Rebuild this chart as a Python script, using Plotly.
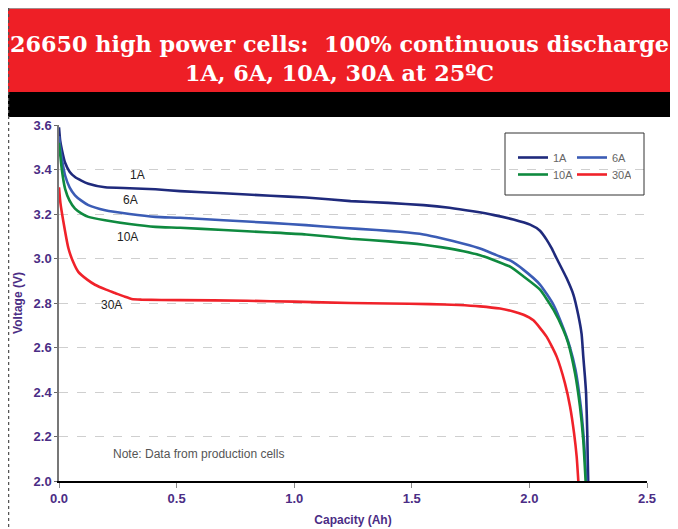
import plotly.graph_objects as go

# ---- data ----
cap_1a = [0, 0.005, 0.012, 0.026, 0.045, 0.068, 0.095, 0.125, 0.196, 0.3, 0.41, 0.515, 0.7, 0.9, 1.05, 1.24,
          1.4, 1.55, 1.66, 1.76, 1.85, 1.932, 2.003, 2.045, 2.073, 2.095, 2.116, 2.158, 2.187, 2.208, 2.222,
          2.229, 2.236, 2.241, 2.246, 2.248, 2.25]
v_1a = [3.59, 3.53, 3.49, 3.43, 3.39, 3.366, 3.35, 3.336, 3.32, 3.316, 3.311, 3.303, 3.293, 3.282, 3.274, 3.258,
        3.25, 3.24, 3.228, 3.212, 3.195, 3.175, 3.152, 3.125, 3.085, 3.045, 3.0, 2.912, 2.838, 2.745, 2.66,
        2.56, 2.47, 2.394, 2.215, 2.1, 2.0]

cap_6a = [0, 0.005, 0.012, 0.026, 0.045, 0.068, 0.095, 0.125, 0.196, 0.3, 0.41, 0.515, 0.7, 0.9, 1.05, 1.2,
          1.35, 1.45, 1.55, 1.63, 1.72, 1.79, 1.86, 1.92, 1.974, 2.045, 2.102, 2.144, 2.17, 2.196, 2.218, 2.232,
          2.242]
v_6a = [3.55, 3.5, 3.45, 3.373, 3.32, 3.284, 3.26, 3.24, 3.217, 3.2, 3.187, 3.183, 3.172, 3.16, 3.15, 3.138,
        3.128, 3.12, 3.108, 3.09, 3.066, 3.045, 3.015, 2.99, 2.95, 2.883, 2.793, 2.688, 2.61, 2.50, 2.34, 2.18,
        2.0]

cap_10a = [0, 0.005, 0.012, 0.026, 0.045, 0.068, 0.095, 0.125, 0.196, 0.3, 0.41, 0.515, 0.7, 0.9, 1.05, 1.24,
           1.4, 1.55, 1.63, 1.72, 1.79, 1.861, 1.92, 1.974, 2.045, 2.102, 2.144, 2.165, 2.194, 2.215, 2.229,
           2.239]
v_10a = [3.52, 3.47, 3.40, 3.313, 3.26, 3.224, 3.203, 3.187, 3.172, 3.155, 3.142, 3.138, 3.128, 3.117, 3.108,
         3.089, 3.077, 3.062, 3.05, 3.033, 3.015, 2.988, 2.962, 2.92, 2.86, 2.77, 2.68, 2.62, 2.484, 2.334,
         2.184, 2.0]

cap_30a = [0, 0.006, 0.018, 0.04, 0.06, 0.082, 0.12, 0.153, 0.2, 0.238, 0.28, 0.309, 0.35, 0.515, 0.8, 1.0,
           1.24, 1.4, 1.577, 1.7, 1.79, 1.875, 1.932, 1.975, 2.017, 2.073, 2.116, 2.151, 2.173, 2.19, 2.201,
           2.208]
v_30a = [3.32, 3.25, 3.17, 3.046, 2.985, 2.94, 2.905, 2.882, 2.86, 2.845, 2.828, 2.818, 2.815, 2.813, 2.81,
         2.806, 2.8, 2.798, 2.795, 2.791, 2.785, 2.775, 2.762, 2.747, 2.722, 2.649, 2.559, 2.44, 2.334, 2.214,
         2.109, 2.0]

series_names = ["1A", "6A", "10A", "30A"]
x_ticks = [0.0, 0.5, 1.0, 1.5, 2.0, 2.5]
y_ticks = [2.0, 2.2, 2.4, 2.6, 2.8, 3.0, 3.2, 3.4, 3.6]

title_line1 = "26650 high power cells: \u00a0100% continuous discharge"
title_line2 = "1A, 6A, 10A, 30A at 25\u00baC"
note_text = "Note: Data from production cells"

# ---- layout helpers (reference pixel -> paper); page has an 8px body margin ----
OFF = 8
W, H = 678 - OFF, 529 - OFF
L, R, T, B = 59, 647, 125, 481


def px(x):
    return (x - L) / (R - L)


def py(y):
    return (B - y) / (B - T)


colors = {"1A": "#1f2a7c", "6A": "#3b5cb5", "10A": "#0f8a3f", "30A": "#f0222a"}
data = {"1A": (cap_1a, v_1a), "6A": (cap_6a, v_6a), "10A": (cap_10a, v_10a), "30A": (cap_30a, v_30a)}
legend_of = {"1A": "legend", "6A": "legend", "10A": "legend2", "30A": "legend2"}

fig = go.Figure()
for name in series_names:
    xs, ys = data[name]
    fig.add_trace(go.Scatter(x=xs, y=ys, mode="lines", name=name,
                             line=dict(color=colors[name], width=2.6, shape="spline", smoothing=0.5),
                             legend=legend_of[name]))

purple = "#4b2d85"
tick_font = dict(family="Liberation Sans", size=13, color=purple, weight="bold")
leg_font = dict(family="Liberation Sans", size=11, color="#666")

fig.update_layout(
    width=W, height=H,
    margin=dict(l=L - OFF, r=678 - R, t=T - OFF, b=529 - B, autoexpand=False),
    paper_bgcolor="white", plot_bgcolor="white",
    font=dict(family="Liberation Sans"),
    xaxis=dict(range=[0, 2.5], tickvals=x_ticks, tickformat=".1f", showgrid=False, zeroline=False,
               showline=True, linecolor="black", linewidth=1.5, ticks="outside", ticklen=5,
               tickcolor="#888", tickfont=tick_font,
               title=dict(text="<b>Capacity (Ah)</b>", font=dict(size=12, color=purple), standoff=10)),
    yaxis=dict(range=[2.0, 3.6], tickvals=y_ticks, tickformat=".1f", showgrid=True,
               gridcolor="#cfcfcf", griddash="dash", gridwidth=1, zeroline=False,
               showline=True, linecolor="#777", linewidth=1.5, ticks="outside", ticklen=3,
               tickcolor="#666", tickfont=tick_font,
               title=dict(text="<b>Voltage (V)</b>", font=dict(size=12, color=purple), standoff=8)),
    legend=dict(orientation="h", x=px(513), y=py(143), xanchor="left", yanchor="top",
                entrywidth=14, entrywidthmode="pixels", itemwidth=30,
                font=leg_font, bgcolor="rgba(0,0,0,0)", borderwidth=0, tracegroupgap=0),
    legend2=dict(orientation="h", x=px(513), y=py(160), xanchor="left", yanchor="top",
                 entrywidth=14, entrywidthmode="pixels", itemwidth=30,
                 font=leg_font, bgcolor="rgba(0,0,0,0)", borderwidth=0, tracegroupgap=0),
    showlegend=True,
)

shapes = [
    # red header band
    dict(type="rect", xref="paper", yref="paper", x0=px(8), x1=px(678), y0=py(92), y1=py(8.5),
         fillcolor="#ee1f26", line=dict(width=0)),
    # black band
    dict(type="rect", xref="paper", yref="paper", x0=px(8), x1=px(678), y0=py(117), y1=py(92),
         fillcolor="black", line=dict(width=0)),
    # outer frame (top and left)
    dict(type="line", xref="paper", yref="paper", x0=px(7), x1=px(678), y0=py(8), y1=py(8),
         line=dict(color="#888", width=1.5)),
    dict(type="line", xref="paper", yref="paper", x0=px(8), x1=px(8), y0=py(8), y1=py(529),
         line=dict(color="#555", width=2.5, dash="dot")),
    # legend box
    dict(type="rect", xref="paper", yref="paper", x0=px(505), x1=px(644), y0=py(195), y1=py(133),
         line=dict(color="#333", width=1), fillcolor="rgba(0,0,0,0)"),
]
fig.update_layout(shapes=shapes)

annotations = [
    dict(xref="paper", yref="paper", x=px(339), y=py(58.5), xanchor="center", yanchor="middle",
         text="<b>" + title_line1 + "<br>" + title_line2 + "</b>", showarrow=False,
         font=dict(family="DejaVu Serif", size=22.3, color="white")),
    dict(xref="x", yref="y", x=0.332, y=3.375, text="1A", showarrow=False,
         font=dict(family="Liberation Sans", size=12, color="#222")),
    dict(xref="x", yref="y", x=0.302, y=3.263, text="6A", showarrow=False,
         font=dict(family="Liberation Sans", size=12, color="#222")),
    dict(xref="x", yref="y", x=0.293, y=3.097, text="10A", showarrow=False,
         font=dict(family="Liberation Sans", size=12, color="#222")),
    dict(xref="x", yref="y", x=0.225, y=2.791, text="30A", showarrow=False,
         font=dict(family="Liberation Sans", size=12, color="#222")),
    dict(xref="x", yref="y", x=0.595, y=2.121, text=note_text, showarrow=False,
         font=dict(family="Liberation Sans", size=12, color="#555")),
]
fig.update_layout(annotations=annotations)

fig.write_html("out.html")
